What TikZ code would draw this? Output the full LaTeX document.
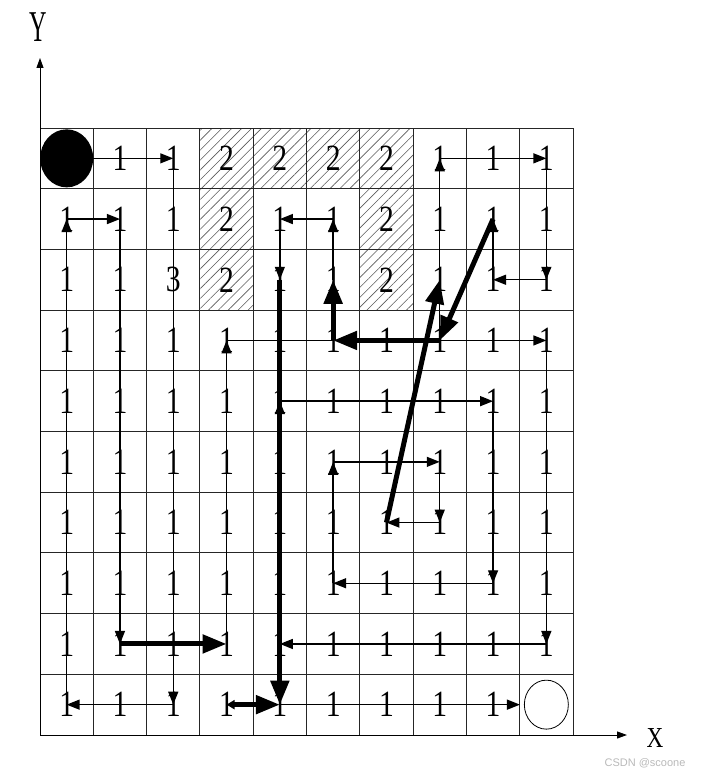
\documentclass[tikz,border=0pt]{standalone}
\usepackage{fontspec}
\setmainfont{Liberation Serif}
\newfontfamily\wmfont{Liberation Sans}
\usetikzlibrary{arrows.meta,patterns.meta,shapes.geometric}
\begin{document}
\begin{tikzpicture}[x=1pt,y=-1pt,
  cell/.style={inner sep=0pt, xscale=0.8, font=\fontsize{37}{37}\selectfont},
  thinarrow/.style={line width=1.4pt, -{Triangle[length=13pt,width=10pt]}},
  thinline/.style={line width=1.4pt},
  thickarrow/.style={line width=5pt, -{Triangle[length=24pt,width=18pt]}},
  hatch/.style={pattern={Lines[angle=45,distance=7pt,line width=0.6pt]}, pattern color=black!65},
  gridline/.style={draw=black!85, line width=0.9pt},
  axis/.style={line width=0.9pt, -{Triangle[length=10pt,width=7pt]}}]
\useasboundingbox (0,0) rectangle (704,776);
% hatched cells
\foreach \i/\j in {3/0,4/0,5/0,6/0,3/1,6/1,3/2,6/2}
  \fill[hatch] ({40+53.3*\i},{128+60.7*\j}) rectangle ++(53.3,60.7);
% grid
\foreach \k in {0,...,10} {
  \draw[gridline] ({40+53.3*\k},128) -- ({40+53.3*\k},735);
  \draw[gridline] (40,{128+60.7*\k}) -- (573,{128+60.7*\k});
}
% axes
\draw[axis] (40,735) -- (40,58);
\draw[axis] (40,735) -- (627,735);
\node[font=\fontsize{44}{44}\selectfont, xscale=0.55] (ylab) at (38,27) {Y};
\node[font=\fontsize{29}{29}\selectfont, xscale=0.8] (xlab) at (655,738) {X};
\node[font=\wmfont\fontsize{11}{11}\selectfont, text=gray!55] (wm) at (645,763) {CSDN @scoone};
% cell centres
\foreach \j in {0,...,9} {
  \foreach \i in {0,...,9} {
    \coordinate (p-\i-\j) at ({40+53.3*(\i+0.5)},{128+60.7*(\j+0.5)});
  }
}
% cell labels
\foreach \j in {3,...,8} {
  \foreach \i in {0,...,9} {
    \node[cell] (c-\i-\j) at (p-\i-\j) {1};
  }
}
\foreach \i/\j/\t in {1/0/1,2/0/1,3/0/2,4/0/2,5/0/2,6/0/2,7/0/1,8/0/1,9/0/1,
  0/1/1,1/1/1,2/1/1,3/1/2,4/1/1,5/1/1,6/1/2,7/1/1,8/1/1,9/1/1,
  0/2/1,1/2/1,2/2/3,3/2/2,4/2/1,5/2/1,6/2/2,7/2/1,8/2/1,9/2/1,
  0/9/1,1/9/1,2/9/1,3/9/1,4/9/1,5/9/1,6/9/1,7/9/1,8/9/1}
  \node[cell] (c-\i-\j) at (p-\i-\j) {\t};
% start and goal
\node[ellipse, fill=black, minimum width=53pt, minimum height=58pt, inner sep=0pt] (start) at (p-0-0) {};
\node[ellipse, draw, line width=0.8pt, minimum width=44pt, minimum height=49pt, inner sep=0pt] (goal) at (p-9-9) {};
% thin path
\draw[thinarrow] (start) -- (c-2-0.center);
\draw[thinarrow] (c-2-0.center) -- (c-2-9.center);
\draw[thinarrow] (c-2-9.center) -- (c-0-9.center);
\draw[thinarrow] (c-0-9.center) -- (c-0-1.center);
\draw[thinarrow] (c-0-1.center) -- (c-1-1.center);
\draw[thinarrow] (c-1-1.center) -- (c-1-8.center);
\draw[thinarrow] (c-3-8.center) -- (c-3-3.center);
\draw[thinline] (c-3-3.center) -- (c-5-3.center);
\draw[thinarrow] (c-7-3.center) -- (c-9-3.center);
\draw[thinarrow] (c-7-3.center) -- (c-7-0.center);
\draw[thinarrow] (c-7-0.center) -- (c-9-0.center);
\draw[thinarrow] (c-9-0.center) -- (c-9-2.center);
\draw[thinarrow] (c-9-2.center) -- (c-8-2.center);
\draw[thinarrow] (c-8-2.center) -- (c-8-1.center);
\draw[thinarrow] (c-9-3.center) -- (c-9-8.center);
\draw[thinarrow] (c-9-8.center) -- (c-4-8.center);
\draw[thinarrow] (c-4-8.center) -- (c-4-4.center);
\draw[thinarrow] (c-4-4.center) -- (c-8-4.center);
\draw[thinarrow] (c-8-4.center) -- (c-8-7.center);
\draw[thinarrow] (c-8-7.center) -- (c-5-7.center);
\draw[thinarrow] (c-5-7.center) -- (c-5-5.center);
\draw[thinarrow] (c-5-5.center) -- (c-7-5.center);
\draw[thinarrow] (c-7-5.center) -- (c-7-6.center);
\draw[thinarrow] (c-7-6.center) -- (c-6-6.center);
\draw[thinarrow] (c-5-2.center) -- (c-5-1.center);
\draw[thinarrow] (c-5-1.center) -- (c-4-1.center);
\draw[thinarrow] (c-4-1.center) -- (c-4-2.center);
\draw[thinarrow, shorten >=4pt] (c-4-9.center) -- (goal.west);
% thick path
\draw[thickarrow] (c-1-8.center) -- (c-3-8.center);
\draw[thickarrow] (c-8-1.center) -- (c-7-3.center);
\draw[thickarrow] (c-6-6.center) -- (c-7-2.center);
\draw[thickarrow] (c-7-3.center) -- (c-5-3.center);
\draw[thickarrow] (c-5-3.center) -- (c-5-2.center);
\draw[thickarrow] (c-4-2.center) -- (c-4-9.center);
\draw[line width=5pt, {Triangle[length=8pt,width=9pt]}-{Triangle[length=24pt,width=18pt]}] (c-3-9.center) -- (c-4-9.center);
\end{tikzpicture}
\end{document}
